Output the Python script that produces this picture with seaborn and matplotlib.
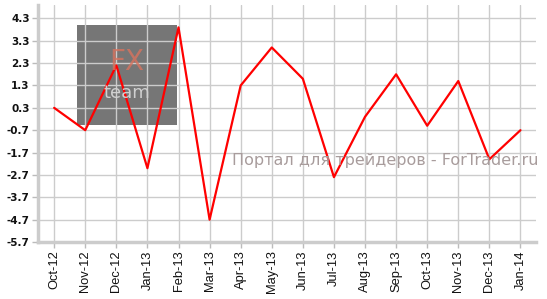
import numpy as np
import pandas as pd
import seaborn as sns
import matplotlib
matplotlib.use("Agg")
import matplotlib.pyplot as plt
from matplotlib.patches import Rectangle

months = ["Oct-12", "Nov-12", "Dec-12", "Jan-13", "Feb-13", "Mar-13", "Apr-13", "May-13",
          "Jun-13", "Jul-13", "Aug-13", "Sep-13", "Oct-13", "Nov-13", "Dec-13", "Jan-14"]
values = [0.3, -0.7, 2.2, -2.4, 3.9, -4.7, 1.3, 3.0,
          1.6, -2.8, -0.1, 1.8, -0.5, 1.5, -2.0, -0.7]
yticks = [4.3, 3.3, 2.3, 1.3, 0.3, -0.7, -1.7, -2.7, -3.7, -4.7, -5.7]
watermark = "Портал для трейдеров - ForTrader.ru"

sns.set_style("white")
plt.rcParams['font.family'] = ['DejaVu Sans']

df = pd.DataFrame({"month": months, "value": values})

fig = plt.figure(figsize=(5.47, 2.99), dpi=100)
ax = fig.add_axes([38/547, 1 - 242/299, (536 - 38)/547, (242 - 5)/299])

ax.set_xlim(-0.52, 15.5)
ax.set_ylim(-5.7, 4.9)

# logo box
ax.add_patch(Rectangle((77/547, 1 - 125/299), 100/547, 100/299, transform=fig.transFigure,
                       facecolor="#767676", edgecolor="none", zorder=0.5))
fig.text(127/547, 1 - 70/299, "FX", color="#d8735e", fontsize=20, ha="center", va="baseline",
         family="DejaVu Sans", zorder=0.6, alpha=0.8)
fig.text(127/547, 1 - 98/299, "team", color="#cfcfcf", fontsize=13, ha="center", va="baseline",
         family="DejaVu Sans", zorder=0.6)

sns.lineplot(data=df, x="month", y="value", sort=False, color="#ff0000", linewidth=1.6,
             ax=ax, zorder=3)

ax.set_yticks(yticks)
ax.set_yticklabels([f"{v:.1f}" for v in yticks], fontsize=7.5, fontweight="bold", color="#111111")
ax.set_xticks(range(len(months)))
ax.set_xticklabels(months, rotation=90, fontsize=9.3, family="Liberation Sans", color="#111111")
ax.grid(True, color="#cccccc", linewidth=1.0, zorder=1)
ax.set_axisbelow(True)
ax.set_xlabel("")
ax.set_ylabel("")

for s in ["top", "right"]:
    ax.spines[s].set_visible(False)
ax.spines["left"].set_color("#cccccc")
ax.spines["left"].set_linewidth(2.5)
ax.spines["bottom"].set_color("#cccccc")
ax.spines["bottom"].set_linewidth(2.5)
ax.tick_params(axis="both", which="both", length=4, width=1, color="#bbbbbb", pad=2,
               left=True, bottom=True)

fig.text(539/547, 1 - 160/299, watermark, color="#a89c9c", fontsize=11.5, ha="right",
         va="center", family="DejaVu Sans", zorder=5)

fig.savefig("out.png", dpi=100)
